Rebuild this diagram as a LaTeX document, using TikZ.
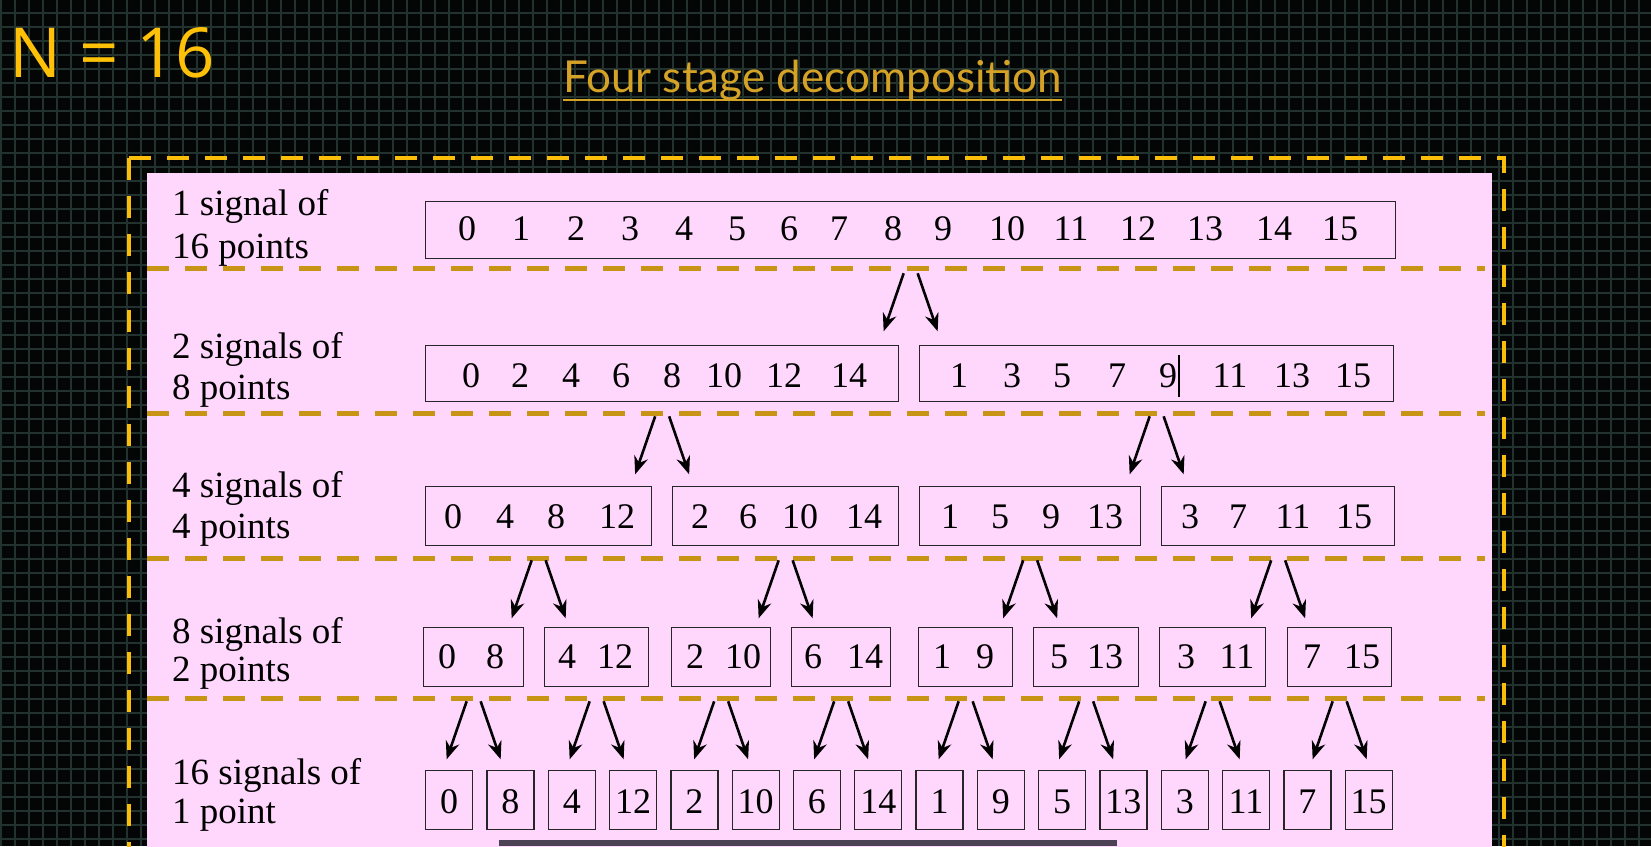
\documentclass[tikz,border=0pt]{standalone}
\usepackage{fontspec}
\setmainfont{Liberation Serif}
\newfontfamily\nfont{Open Sans}
\newfontfamily\tfont{Lato}
\usetikzlibrary{arrows.meta,calc}
\definecolor{bgc}{RGB}{4,5,5}
\definecolor{gridc}{RGB}{34,50,46}
\definecolor{pinkc}{RGB}{255,215,253}
\definecolor{sepc}{RGB}{200,148,22}
\definecolor{outc}{RGB}{250,190,10}
\definecolor{amber}{RGB}{255,193,7}
\definecolor{titc}{RGB}{212,162,38}
\definecolor{barc}{RGB}{76,66,86}
\newcommand\sigbox[5]{\node[sig,minimum width=#4pt,minimum height=#5pt] (#1) at (#2,#3) {};}
\newcommand\splitarrows[1]{%
  \draw[arr] ($(#1.south)+(-7,14)$) -- ($(#1.south)+(-27,72)$);
  \draw[arr] ($(#1.south)+(7,14)$) -- ($(#1.south)+(27,72)$);}
\begin{document}
\begin{tikzpicture}[x=1pt,y=-1pt,
  sep/.style={sepc,line width=5pt,dash pattern=on 22pt off 16pt},
  sig/.style={draw=black!85,line width=1.3pt,fill=pinkc,inner sep=0pt,anchor=north west},
  num/.style={anchor=base,inner sep=0pt,font=\fontsize{36}{42}\selectfont},
  lab/.style={anchor=base west,inner sep=0pt,font=\fontsize{37}{42}\selectfont},
  arr/.style={line width=2.6pt,-{Stealth[length=18pt,width=14pt,inset=6pt]}}]
\useasboundingbox (0,0) rectangle (1651,846);
\clip (0,0) rectangle (1651,846);
% background grid
\fill[bgc] (0,0) rectangle (1651,846);
\foreach \i in {0,...,118} \draw[gridc,line width=2.2pt] (1+14*\i,0) -- (1+14*\i,846);
\foreach \i in {0,...,60} \draw[gridc,line width=2.2pt] (0,13+14*\i) -- (1651,13+14*\i);
% headings
\node[anchor=base west,inner sep=0pt,font=\nfont\fontsize{69}{72}\selectfont,text=amber] (N) at (9,77) {N = 16};
\node[anchor=base west,inner sep=0pt,font=\tfont\fontsize{44}{50}\selectfont,text=titc] (title) at (563,92) {Four stage decomposition};
\draw[titc,line width=2pt] ($(title.base west)+(0,8)$) -- ($(title.base east)+(0,8)$);
% frame and panel
\draw[outc,line width=4pt,dash pattern=on 22pt off 16pt] (129,158) -- (1504,158) -- (1504,900);
\draw[outc,line width=4pt,dash pattern=on 22pt off 16pt] (129,158) -- (129,900);
\fill[pinkc] (147,173) rectangle (1492,900);
\foreach \y in {268,413,558,698} \draw[sep] (147,\y) -- (1485,\y);
\fill[barc] (499,840) rectangle (1117,846);
% row labels
\node[lab] (l1a) at (172,215) {1 signal of};
\node[lab] (l1b) at (172,258) {16 points};
\node[lab] (l2a) at (172,358) {2 signals of};
\node[lab] (l2b) at (172,399) {8 points};
\node[lab] (l3a) at (172,497) {4 signals of};
\node[lab] (l3b) at (172,538) {4 points};
\node[lab] (l4a) at (172,643) {8 signals of};
\node[lab] (l4b) at (172,681) {2 points};
\node[lab] (l5a) at (172,784) {16 signals of};
\node[lab] (l5b) at (172,823) {1 point};
% row 1
\sigbox{r1}{425}{201}{970}{57}
\foreach \x/\t in {467/0,521/1,576/2,630/3,684/4,737/5,789/6,839/7,893/8,943/9,1007/10,1071/11,1138/12,1205/13,1274/14,1340/15}
  \node[num] (n1-\t) at (\x,240) {\t};
% row 2
\sigbox{r2a}{425}{345}{473}{56}
\sigbox{r2b}{919}{345}{474}{56}
\foreach \x/\t in {471/0,520/2,571/4,621/6,672/8,724/10,784/12,849/14,959/1,1012/3,1062/5,1117/7,1168/9,1230/11,1292/13,1353/15}
  \node[num] (n2-\t) at (\x,387) {\t};
\draw[black,line width=1.5pt] (1179,355) -- (1179,397);
% row 3
\sigbox{r3a}{425}{486}{226}{59}
\sigbox{r3b}{672}{486}{226}{59}
\sigbox{r3c}{919}{486}{221}{59}
\sigbox{r3d}{1161}{486}{233}{59}
\foreach \x/\t in {453/0,505/4,556/8,617/12,700/2,748/6,800/10,864/14,950/1,1000/5,1051/9,1105/13,1190/3,1238/7,1293/11,1354/15}
  \node[num] (n3-\t) at (\x,528) {\t};
% row 4
\sigbox{r4a}{423}{627}{100}{59}
\sigbox{r4b}{544}{627}{104}{59}
\sigbox{r4c}{671}{627}{99}{59}
\sigbox{r4d}{791}{627}{99}{59}
\sigbox{r4e}{918}{627}{94}{59}
\sigbox{r4f}{1033}{627}{105}{59}
\sigbox{r4g}{1159}{627}{106}{59}
\sigbox{r4h}{1287}{627}{104}{59}
\foreach \x/\t in {447/0,495/8,567/4,615/12,695/2,743/10,813/6,865/14,942/1,985/9,1059/5,1105/13,1186/3,1237/11,1312/7,1362/15}
  \node[num] (n4-\t) at (\x,668) {\t};
% row 5
\foreach \t [count=\i from 0] in {0,8,4,12,2,10,6,14,1,9,5,13,3,11,7,15}{
  \node[sig,minimum width=47pt,minimum height=59pt] (r5-\t) at (425+61.3*\i,770) {};
  \node[num] (n5-\t) at ($(r5-\t.north)+(0,43)$) {\t};
}
% arrows
\splitarrows{r1}
\splitarrows{r2a}
\splitarrows{r2b}
\splitarrows{r3a}
\splitarrows{r3b}
\splitarrows{r3c}
\splitarrows{r3d}
\splitarrows{r4a}
\splitarrows{r4b}
\splitarrows{r4c}
\splitarrows{r4d}
\splitarrows{r4e}
\splitarrows{r4f}
\splitarrows{r4g}
\splitarrows{r4h}
\end{tikzpicture}
\end{document}
